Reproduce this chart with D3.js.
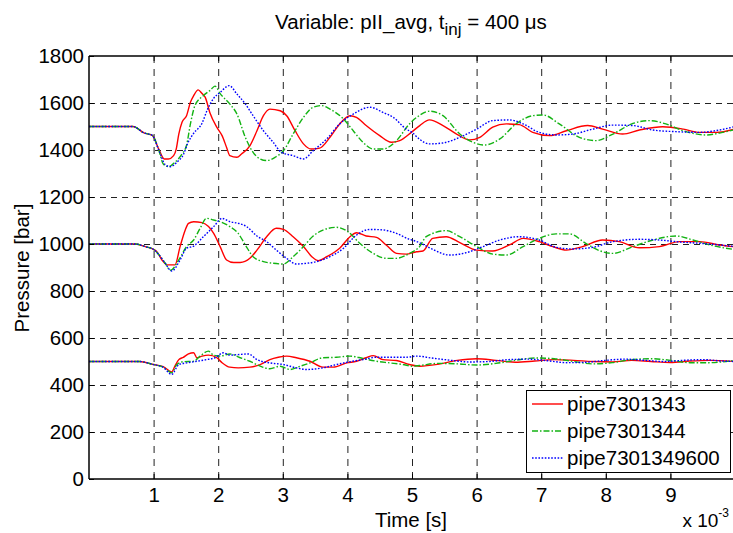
<!DOCTYPE html>
<html>
<head>
<meta charset="utf-8">
<script src="https://cdn.jsdelivr.net/npm/d3@7"></script>
<style>
  html, body { margin: 0; padding: 0; background: #fff; }
  svg { display: block; }
  text { font-family: "Liberation Sans", Arial, sans-serif; fill: #000; }
</style>
</head>
<body>
<svg id="chart" width="733" height="533"></svg>
<script>
// Time axis in units of 1e-3 s
const xTicks = [1, 2, 3, 4, 5, 6, 7, 8, 9];
const yTicks = [0, 200, 400, 600, 800, 1000, 1200, 1400, 1600, 1800];
const seriesNames = ["pipe7301343", "pipe7301344", "pipe7301349600"];

// pipe7301343 (red) at the three rail pressure levels: [t, p]
const red1500 = [[0,1500],[0.68,1500],[0.85,1473],[0.98,1462],[1.08,1404],[1.165,1362],[1.23,1362],[1.31,1376],[1.35,1404],[1.39,1468],[1.44,1518],[1.51,1546],[1.57,1603],[1.62,1631],[1.69,1656],[1.75,1640],[1.80,1624],[1.87,1560],[1.98,1496],[2.06,1461],[2.13,1411],[2.18,1376],[2.29,1369],[2.36,1383],[2.49,1418],[2.60,1482],[2.70,1546],[2.80,1574],[2.96,1567],[3.06,1546],[3.19,1482],[3.32,1426],[3.44,1404],[3.57,1408],[3.73,1454],[3.88,1511],[4.04,1546],[4.14,1539],[4.29,1504],[4.50,1461],[4.68,1433],[4.81,1440],[4.99,1475],[5.12,1504],[5.27,1528],[5.48,1504],[5.69,1468],[5.89,1443],[6.05,1454],[6.25,1497],[6.46,1511],[6.66,1508],[6.87,1475],[7.13,1461],[7.39,1482],[7.72,1504],[7.95,1489],[8.26,1468],[8.52,1485],[8.88,1499],[9.20,1489],[9.45,1475],[9.71,1475],[10,1490]];
const red1000 = [[0,1000],[0.72,1000],[0.88,988],[1.0,977],[1.05,967],[1.13,932],[1.21,911],[1.33,911],[1.41,989],[1.49,1060],[1.54,1088],[1.62,1095],[1.75,1091],[1.85,1074],[1.93,1045],[2.03,989],[2.13,932],[2.24,921],[2.34,921],[2.49,939],[2.60,974],[2.75,1031],[2.90,1067],[3.01,1062],[3.16,1031],[3.32,989],[3.45,946],[3.55,929],[3.68,946],[3.88,982],[4.04,1031],[4.14,1048],[4.29,1034],[4.45,1028],[4.60,996],[4.76,960],[4.91,957],[5.07,967],[5.17,970],[5.32,1024],[5.53,1031],[5.74,1006],[6.0,974],[6.25,970],[6.51,996],[6.72,1024],[6.97,1010],[7.18,989],[7.39,974],[7.64,989],[7.95,1017],[8.21,1010],[8.52,984],[8.83,989],[9.14,1010],[9.45,1010],[9.76,996],[10,988]];
const red500 = [[0,500],[0.78,500],[1.0,487],[1.15,478],[1.28,456],[1.33,480],[1.39,508],[1.46,518],[1.54,532],[1.62,537],[1.67,516],[1.75,523],[1.85,527],[1.98,516],[2.06,495],[2.18,476],[2.31,473],[2.49,476],[2.65,487],[2.80,508],[2.93,518],[3.06,523],[3.21,516],[3.42,501],[3.62,476],[3.78,476],[3.99,494],[4.14,501],[4.29,516],[4.40,525],[4.55,508],[4.76,504],[4.96,487],[5.12,480],[5.4,488],[5.7,505],[6.0,512],[6.3,505],[6.6,497],[6.9,502],[7.2,508],[7.5,505],[7.8,500],[8.1,498],[8.4,505],[8.7,500],[9.0,496],[9.3,502],[9.6,505],[10,500]];

// pipe7301344 (green)
const green1500 = [[0,1500],[0.68,1500],[0.85,1473],[0.98,1462],[1.08,1400],[1.15,1340],[1.23,1329],[1.33,1348],[1.44,1383],[1.51,1420],[1.57,1511],[1.64,1589],[1.77,1631],[1.88,1655],[1.95,1672],[2.03,1640],[2.18,1596],[2.29,1553],[2.42,1454],[2.54,1390],[2.65,1362],[2.75,1355],[2.88,1369],[3.01,1397],[3.16,1468],[3.32,1539],[3.47,1582],[3.60,1589],[3.73,1574],[3.94,1532],[4.09,1482],[4.24,1433],[4.40,1404],[4.55,1404],[4.76,1440],[4.96,1511],[5.12,1548],[5.27,1565],[5.48,1546],[5.74,1468],[5.94,1433],[6.12,1421],[6.36,1447],[6.61,1511],[6.87,1546],[7.03,1549],[7.28,1511],[7.59,1454],[7.85,1440],[8.11,1468],[8.42,1513],[8.68,1525],[8.93,1511],[9.20,1482],[9.55,1464],[9.81,1475],[10,1487]];
const green1000 = [[0,1000],[0.72,1000],[0.88,988],[1.0,977],[1.08,955],[1.18,918],[1.26,888],[1.39,932],[1.51,989],[1.62,1017],[1.72,1067],[1.82,1109],[1.93,1102],[2.03,1095],[2.18,1074],[2.31,1045],[2.42,996],[2.54,946],[2.70,925],[2.85,918],[3.01,915],[3.16,946],[3.32,989],[3.47,1034],[3.63,1060],[3.83,1071],[4.01,1052],[4.19,1003],[4.40,960],[4.60,939],[4.76,939],[4.96,960],[5.12,990],[5.22,1031],[5.53,1057],[5.74,1031],[6.0,989],[6.25,957],[6.46,953],[6.72,989],[6.97,1024],[7.23,1043],[7.44,1043],[7.69,1003],[7.90,972],[8.11,960],[8.42,989],[8.73,1017],[9.09,1034],[9.35,1017],[9.61,996],[10,976]];
const green500 = [[0,500],[0.78,500],[1.0,487],[1.15,476],[1.28,452],[1.36,487],[1.46,499],[1.62,501],[1.72,523],[1.85,544],[1.93,527],[2.03,523],[2.18,532],[2.34,516],[2.49,501],[2.65,480],[2.80,469],[2.96,480],[3.11,466],[3.27,480],[3.42,494],[3.62,516],[3.83,518],[4.04,523],[4.24,513],[4.45,501],[4.66,494],[4.86,487],[5.01,480],[5.12,483],[5.4,492],[5.7,490],[6.0,485],[6.3,492],[6.6,505],[6.9,515],[7.2,512],[7.5,500],[7.8,490],[8.1,495],[8.4,508],[8.7,512],[9.0,505],[9.3,495],[9.6,495],[10,505]];

// pipe7301349600 (blue)
const blue1500 = [[0,1500],[0.68,1500],[0.85,1473],[0.98,1462],[1.08,1400],[1.18,1338],[1.26,1329],[1.36,1348],[1.46,1380],[1.53,1430],[1.62,1471],[1.75,1514],[1.83,1570],[1.93,1620],[2.03,1645],[2.17,1674],[2.29,1638],[2.42,1596],[2.54,1546],[2.70,1482],[2.85,1433],[2.98,1390],[3.16,1376],[3.32,1362],[3.47,1397],[3.68,1447],[3.88,1511],[4.09,1553],[4.35,1582],[4.55,1560],[4.71,1539],[4.91,1489],[5.0,1475],[5.12,1445],[5.27,1426],[5.48,1430],[5.74,1454],[6.0,1489],[6.25,1525],[6.51,1528],[6.72,1511],[6.97,1475],[7.23,1464],[7.49,1468],[7.80,1489],[8.11,1506],[8.42,1504],[8.73,1485],[9.09,1478],[9.45,1475],[9.76,1485],[10,1500]];
const blue1000 = [[0,1000],[0.72,1000],[0.88,988],[1.0,977],[1.08,955],[1.18,918],[1.28,885],[1.41,932],[1.51,982],[1.62,991],[1.77,1031],[1.93,1074],[2.06,1109],[2.18,1095],[2.31,1088],[2.44,1074],[2.60,1034],[2.75,1010],[2.90,974],[3.06,939],[3.21,915],[3.37,918],[3.52,925],[3.73,946],[3.94,982],[4.14,1038],[4.35,1062],[4.55,1060],[4.76,1045],[4.96,1020],[5.0,1017],[5.12,1005],[5.32,977],[5.58,953],[5.84,963],[6.10,989],[6.36,1017],[6.66,1031],[6.97,1017],[7.23,986],[7.49,979],[7.80,986],[8.11,1010],[8.52,1020],[8.83,1017],[9.09,1010],[9.45,1003],[9.76,996],[10,989]];
const blue500 = [[0,500],[0.78,500],[1.0,487],[1.15,475],[1.28,445],[1.39,487],[1.51,494],[1.67,501],[1.82,508],[1.95,516],[2.08,537],[2.18,527],[2.34,530],[2.47,532],[2.60,508],[2.80,494],[3.01,487],[3.21,473],[3.37,466],[3.62,473],[3.83,487],[4.04,499],[4.24,508],[4.45,518],[4.66,518],[4.91,518],[5.07,523],[5.3,515],[5.6,505],[5.9,498],[6.2,500],[6.5,508],[6.8,510],[7.1,503],[7.4,495],[7.7,497],[8.0,505],[8.3,510],[8.6,505],[8.9,500],[9.2,505],[9.5,508],[9.8,502],[10,500]];

const styles = [
  { color: "#ff0000", dash: null },
  { color: "#13b313", dash: "6,2,1.5,2" },
  { color: "#0000ff", dash: "1.6,1.6" }
];
const seriesData = [
  [red1500, red1000, red500],
  [green1500, green1000, green500],
  [blue1500, blue1000, blue500]
];

const FONT = 20.5;
const svg = d3.select("#chart");
const margin = { left: 89, top: 56, right: 735, bottom: 479 };

const x = d3.scaleLinear().domain([0, 10]).range([margin.left, margin.right]);
const y = d3.scaleLinear().domain([0, 1800]).range([margin.bottom, margin.top]);

svg.append("defs").append("clipPath").attr("id", "plotClip")
  .append("rect")
  .attr("x", margin.left).attr("y", margin.top)
  .attr("width", margin.right - margin.left)
  .attr("height", margin.bottom - margin.top);

// Grid
const grid = svg.append("g");
grid.selectAll(".vg").data(xTicks).enter().append("line")
  .attr("x1", d => x(d) + 0.5).attr("x2", d => x(d) + 0.5)
  .attr("y1", margin.top).attr("y2", margin.bottom)
  .attr("stroke", "#222").attr("stroke-width", 1)
  .attr("stroke-dasharray", "7,6");
grid.selectAll(".hg").data(yTicks.filter(d => d > 0 && d < 1800)).enter().append("line")
  .attr("x1", margin.left).attr("x2", margin.right)
  .attr("y1", d => Math.round(y(d)) + 0.5).attr("y2", d => Math.round(y(d)) + 0.5)
  .attr("stroke", "#222").attr("stroke-width", 1)
  .attr("stroke-dasharray", "6,5");

// Series lines
const line = d3.line()
  .x(d => x(d[0]))
  .y(d => y(d[1]))
  .curve(d3.curveMonotoneX);

const plot = svg.append("g").attr("clip-path", "url(#plotClip)");
seriesData.forEach((levels, i) => {
  levels.forEach(arr => {
    plot.append("path")
      .datum(arr)
      .attr("d", line)
      .attr("fill", "none")
      .attr("stroke", styles[i].color)
      .attr("stroke-width", 1.4)
      .attr("stroke-dasharray", styles[i].dash);
  });
});

// Axes frame (bottom, left, top)
const frame = svg.append("g").attr("stroke", "#000").attr("stroke-width", 1.5);
frame.append("line").attr("x1", margin.left).attr("x2", margin.right)
  .attr("y1", margin.bottom).attr("y2", margin.bottom);
frame.append("line").attr("x1", margin.left).attr("x2", margin.right)
  .attr("y1", margin.top).attr("y2", margin.top);
frame.append("line").attr("x1", margin.left).attr("x2", margin.left)
  .attr("y1", margin.top).attr("y2", margin.bottom);

// Axes with inward ticks
const xAxisB = d3.axisBottom(x).tickValues(xTicks).tickSize(-5).tickPadding(8);
const gxb = svg.append("g").attr("transform", `translate(0,${margin.bottom})`).call(xAxisB);
const xAxisT = d3.axisTop(x).tickValues(xTicks).tickSize(-5).tickFormat("");
const gxt = svg.append("g").attr("transform", `translate(0,${margin.top})`).call(xAxisT);
const yAxisL = d3.axisLeft(y).tickValues(yTicks).tickSize(-5).tickPadding(5).tickFormat(d3.format("d"));
const gyl = svg.append("g").attr("transform", `translate(${margin.left},0)`).call(yAxisL);

[gxb, gxt, gyl].forEach(g => {
  g.select(".domain").remove();
  g.selectAll(".tick line").attr("stroke", "#000");
  g.selectAll(".tick text").attr("font-size", FONT).attr("fill", "#000")
    .style("font-family", "'Liberation Sans', Arial, sans-serif");
});

// Title
const title = svg.append("text")
  .attr("x", 411).attr("y", 29)
  .attr("text-anchor", "middle")
  .attr("font-size", FONT);
title.append("tspan").text("Variable: pII_avg, t");
title.append("tspan").attr("dy", 6).attr("font-size", 17).text("inj");
title.append("tspan").attr("dy", -6).text(" = 400 μs");

// Axis labels
svg.append("text")
  .attr("x", 411).attr("y", 527)
  .attr("text-anchor", "middle")
  .attr("font-size", FONT)
  .text("Time [s]");

svg.append("text")
  .attr("transform", "translate(29,268) rotate(-90)")
  .attr("text-anchor", "middle")
  .attr("font-size", FONT)
  .text("Pressure [bar]");

// Axis multiplier, kept inside the page
const expo = svg.append("text")
  .attr("x", 729).attr("y", 527)
  .attr("text-anchor", "end")
  .attr("font-size", 19);
expo.append("tspan").text("x 10");
expo.append("tspan").attr("dy", -10).attr("font-size", 12).text("-3");

// Legend
const legend = svg.append("g");
legend.append("rect")
  .attr("x", 526.5).attr("y", 390.5)
  .attr("width", 204).attr("height", 82)
  .attr("fill", "#fff").attr("stroke", "#000").attr("stroke-width", 1);
const rowY = [404, 431, 458];
seriesNames.forEach((name, i) => {
  legend.append("line")
    .attr("x1", 532).attr("x2", 563)
    .attr("y1", rowY[i]).attr("y2", rowY[i])
    .attr("stroke", styles[i].color)
    .attr("stroke-width", 1.4)
    .attr("stroke-dasharray", styles[i].dash);
  legend.append("text")
    .attr("x", 567).attr("y", rowY[i] + 7)
    .attr("font-size", FONT)
    .text(name);
});
</script>
</body>
</html>
